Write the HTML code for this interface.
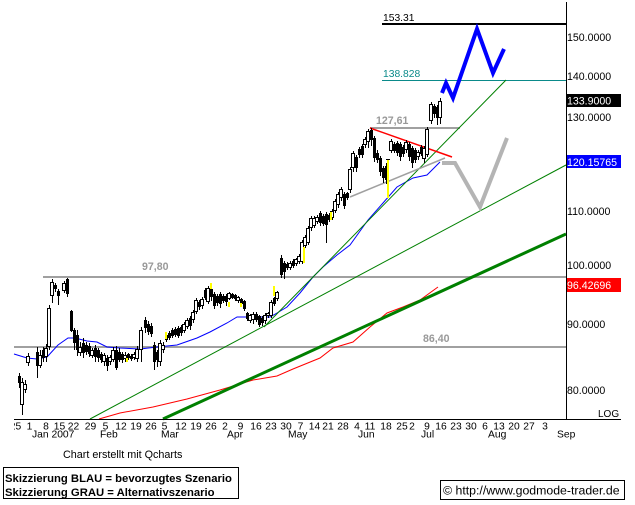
<!DOCTYPE html>
<html><head><meta charset="utf-8"><style>
html,body{margin:0;padding:0;background:#fff;}
svg{display:block;}
text{font-family:"Liberation Sans",Arial,sans-serif;}
</style></head><body>
<svg width="635" height="505" viewBox="0 0 635 505" xmlns="http://www.w3.org/2000/svg">
<rect width="635" height="505" fill="#fff"/>
<!-- horizontal levels -->
<g shape-rendering="crispEdges">
<line x1="382" y1="24" x2="566" y2="24" stroke="#000" stroke-width="2"/>
<line x1="382" y1="80.5" x2="566" y2="80.5" stroke="#0a8a8a" stroke-width="1"/>
<line x1="43" y1="277" x2="566" y2="277" stroke="#a0a0a0" stroke-width="2"/>
<line x1="14" y1="347" x2="566" y2="347" stroke="#a0a0a0" stroke-width="2"/>
<line x1="370" y1="128" x2="460" y2="128" stroke="#a0a0a0" stroke-width="2"/>
</g>
<text x="383" y="21" font-size="10.3" fill="#000">153.31</text>
<text x="383" y="77" font-size="10.3" fill="#0a8a8a">138.828</text>
<text x="376" y="124" font-size="10.6" font-weight="bold" fill="#999">127,61</text>
<text x="142" y="270" font-size="10.6" font-weight="bold" fill="#999">97,80</text>
<text x="423" y="342" font-size="10.6" font-weight="bold" fill="#999">86,40</text>
<!-- moving averages -->
<polyline fill="none" stroke="#ff0000" stroke-width="1" points="99,419 120,413 153,407 187,399 220,390 253,380 277,376 293,369 320,358 333,348 353,342 370,327 387,313 403,307 420,300 438,287"/>
<polyline fill="none" stroke="#0000ff" stroke-width="1" points="14,354 27,358 37,359 47,357 58,345 68,338 75,338 87,341 97,342 107,347 120,348 140,349 157,347 177,345 197,338 210,332 227,323 237,317 250,317 263,317 270,317 277,313 287,307 300,293 313,277 323,267 337,255 350,245 368,220 383,203 397,187 413,178 427,175 440,162"/>
<!-- trend lines -->
<line x1="90" y1="419" x2="566" y2="165" stroke="#008000" stroke-width="1"/>
<line x1="264" y1="327" x2="506" y2="80" stroke="#008000" stroke-width="1"/>
<line x1="163" y1="419" x2="566" y2="234" stroke="#008000" stroke-width="3"/>
<line x1="370" y1="128" x2="452" y2="157" stroke="#ff0000" stroke-width="1.5"/>
<line x1="350" y1="197" x2="445" y2="158" stroke="#a0a0a0" stroke-width="1.5"/>
<!-- candles -->
<g shape-rendering="crispEdges">
<path stroke="#000" stroke-width="1" fill="none" transform="translate(0.5,0)" d="M19 373V388M22 378V415M25 380V393M28 353V366M37 347V378M40 350V368M43 347V362M46 344V362M49 305V350M52 279V303M55 283V292M58 289V305M64 281V293M67 278V297M71 310V332M74 328V350M77 330V356M80 342V356M83 338V358M86 342V355M89 343V357M92 348V358M95 345V362M98 348V362M101 352V363M104 353V366M107 355V371M110 355V365M113 347V362M116 346V370M119 348V362M122 352V363M125 352V362M128 353V360M131 354V361M134 352V360M137 346V362M141 327V362M145 317V333M148 321V335M151 323V337M154 342V370M157 350V367M160 340V366M163 342V353M166 333V342M169 331V340M172 328V338M175 327V337M178 326V338M181 325V336M184 322V333M187 318V329M190 316V330M193 310V323M196 298V314M199 300V310M202 297V309M205 288V300M208 286V304M211 287V301M214 292V309M217 294V306M220 292V308M223 294V303M226 294V306M229 292V300M232 293V299M235 294V301M238 296V303M241 298V305M244 300V311M247 312V321M250 314V323M253 312V324M256 312V322M259 315V327M262 316V326M265 313V324M268 312V318M271 300V318M274 297V306M277 291V301M281 255V278M284 261V279M287 262V270M290 261V270M293 259V268M296 258V266M299 254V264M302 240V264M305 235V248M308 226V245M311 216V231M314 216V228M317 215V224M320 211V226M323 214V226M326 212V243M329 213V222M332 209V220M335 199V213M338 192V208M341 187V201M344 192V209M347 192V200M350 167V193M353 151V172M356 155V172M359 147V158M362 144V158M365 137V148M368 129V148M371 128V146M374 136V162M377 150V163M380 156V176M383 166V183M386 163V184M391 139V153M394 142V153M397 141V156M400 142V161M403 145V157M406 140V153M409 142V161M412 146V168M415 148V163M418 150V160M421 145V156M424 146V163M427 127V157M431 102V124M434 104V118M437 105V125M440 98V124"/>
<g fill="#000">
<rect x="18" y="376" width="3" height="7"/>
<rect x="36" y="352" width="3" height="14"/>
<rect x="42" y="350" width="3" height="8"/>
<rect x="54" y="285" width="3" height="4"/>
<rect x="57" y="291" width="3" height="5"/>
<rect x="66" y="279" width="3" height="15"/>
<rect x="70" y="311" width="3" height="20"/>
<rect x="73" y="330" width="3" height="13"/>
<rect x="76" y="335" width="3" height="15"/>
<rect x="82" y="343" width="3" height="10"/>
<rect x="85" y="345" width="3" height="7"/>
<rect x="88" y="346" width="3" height="8"/>
<rect x="94" y="348" width="3" height="9"/>
<rect x="97" y="350" width="3" height="8"/>
<rect x="100" y="354" width="3" height="6"/>
<rect x="106" y="358" width="3" height="8"/>
<rect x="115" y="350" width="3" height="18"/>
<rect x="118" y="352" width="3" height="8"/>
<rect x="121" y="354" width="3" height="6"/>
<rect x="127" y="354" width="3" height="4"/>
<rect x="130" y="356" width="3" height="3"/>
<rect x="144" y="320" width="3" height="8"/>
<rect x="147" y="324" width="3" height="8"/>
<rect x="150" y="326" width="3" height="8"/>
<rect x="153" y="345" width="3" height="17"/>
<rect x="156" y="352" width="3" height="8"/>
<rect x="165" y="335" width="3" height="5"/>
<rect x="168" y="333" width="3" height="5"/>
<rect x="171" y="330" width="3" height="6"/>
<rect x="174" y="329" width="3" height="6"/>
<rect x="177" y="328" width="3" height="8"/>
<rect x="180" y="327" width="3" height="6"/>
<rect x="189" y="318" width="3" height="8"/>
<rect x="198" y="302" width="3" height="5"/>
<rect x="204" y="290" width="3" height="8"/>
<rect x="210" y="289" width="3" height="8"/>
<rect x="213" y="294" width="3" height="12"/>
<rect x="216" y="296" width="3" height="7"/>
<rect x="219" y="294" width="3" height="10"/>
<rect x="222" y="296" width="3" height="5"/>
<rect x="225" y="296" width="3" height="6"/>
<rect x="231" y="294" width="3" height="4"/>
<rect x="234" y="295" width="3" height="4"/>
<rect x="240" y="299" width="3" height="5"/>
<rect x="243" y="301" width="3" height="8"/>
<rect x="246" y="313" width="3" height="6"/>
<rect x="255" y="314" width="3" height="6"/>
<rect x="258" y="316" width="3" height="9"/>
<rect x="261" y="318" width="3" height="5"/>
<rect x="273" y="298" width="3" height="6"/>
<rect x="280" y="258" width="3" height="17"/>
<rect x="283" y="263" width="3" height="9"/>
<rect x="286" y="264" width="3" height="4"/>
<rect x="292" y="261" width="3" height="5"/>
<rect x="319" y="213" width="3" height="10"/>
<rect x="322" y="216" width="3" height="8"/>
<rect x="325" y="214" width="3" height="11"/>
<rect x="328" y="215" width="3" height="5"/>
<rect x="343" y="194" width="3" height="12"/>
<rect x="346" y="193" width="3" height="5"/>
<rect x="355" y="157" width="3" height="11"/>
<rect x="358" y="149" width="3" height="6"/>
<rect x="361" y="146" width="3" height="9"/>
<rect x="370" y="130" width="3" height="10"/>
<rect x="373" y="138" width="3" height="20"/>
<rect x="376" y="153" width="3" height="7"/>
<rect x="379" y="158" width="3" height="14"/>
<rect x="382" y="168" width="3" height="10"/>
<rect x="385" y="166" width="3" height="14"/>
<rect x="393" y="144" width="3" height="7"/>
<rect x="396" y="143" width="3" height="10"/>
<rect x="399" y="144" width="3" height="13"/>
<rect x="402" y="147" width="3" height="7"/>
<rect x="408" y="144" width="3" height="13"/>
<rect x="411" y="148" width="3" height="15"/>
<rect x="414" y="150" width="3" height="10"/>
<rect x="420" y="147" width="3" height="7"/>
<rect x="433" y="106" width="3" height="8"/>
<rect x="436" y="107" width="3" height="11"/>
<rect x="386" y="159" width="4" height="1"/>
</g>
<g fill="#fff" stroke="#000" stroke-width="1">
<rect x="20.5" y="382.5" width="3" height="22"/>
<rect x="23.5" y="384.5" width="3" height="5"/>
<rect x="26.5" y="356.5" width="3" height="6"/>
<rect x="38.5" y="355.5" width="3" height="10"/>
<rect x="44.5" y="348.5" width="3" height="8"/>
<rect x="47.5" y="308.5" width="3" height="38"/>
<rect x="50.5" y="282.5" width="3" height="13"/>
<rect x="62.5" y="283.5" width="3" height="7"/>
<rect x="78.5" y="347.5" width="3" height="5"/>
<rect x="90.5" y="350.5" width="3" height="5"/>
<rect x="102.5" y="355.5" width="3" height="6"/>
<rect x="108.5" y="357.5" width="3" height="4"/>
<rect x="111.5" y="350.5" width="3" height="9"/>
<rect x="123.5" y="355.5" width="3" height="3"/>
<rect x="132.5" y="354.5" width="3" height="3"/>
<rect x="135.5" y="349.5" width="3" height="9"/>
<rect x="139.5" y="330.5" width="3" height="19"/>
<rect x="158.5" y="343.5" width="3" height="18"/>
<rect x="161.5" y="345.5" width="3" height="4"/>
<rect x="182.5" y="324.5" width="3" height="6"/>
<rect x="185.5" y="320.5" width="3" height="6"/>
<rect x="191.5" y="312.5" width="3" height="7"/>
<rect x="194.5" y="300.5" width="3" height="11"/>
<rect x="200.5" y="299.5" width="3" height="6"/>
<rect x="206.5" y="288.5" width="3" height="13"/>
<rect x="227.5" y="293.5" width="3" height="5"/>
<rect x="236.5" y="297.5" width="3" height="3"/>
<rect x="248.5" y="315.5" width="3" height="5"/>
<rect x="251.5" y="314.5" width="3" height="5"/>
<rect x="263.5" y="315.5" width="3" height="5"/>
<rect x="266.5" y="313.5" width="3" height="2"/>
<rect x="269.5" y="302.5" width="3" height="13"/>
<rect x="275.5" y="292.5" width="3" height="6"/>
<rect x="288.5" y="263.5" width="3" height="4"/>
<rect x="294.5" y="259.5" width="3" height="4"/>
<rect x="297.5" y="256.5" width="3" height="5"/>
<rect x="300.5" y="242.5" width="3" height="19"/>
<rect x="303.5" y="237.5" width="3" height="8"/>
<rect x="306.5" y="228.5" width="3" height="14"/>
<rect x="309.5" y="218.5" width="3" height="9"/>
<rect x="312.5" y="218.5" width="3" height="7"/>
<rect x="315.5" y="217.5" width="3" height="4"/>
<rect x="330.5" y="211.5" width="3" height="6"/>
<rect x="333.5" y="201.5" width="3" height="9"/>
<rect x="336.5" y="194.5" width="3" height="10"/>
<rect x="339.5" y="189.5" width="3" height="8"/>
<rect x="348.5" y="169.5" width="3" height="20"/>
<rect x="351.5" y="153.5" width="3" height="14"/>
<rect x="363.5" y="139.5" width="3" height="5"/>
<rect x="366.5" y="131.5" width="3" height="10"/>
<rect x="389.5" y="141.5" width="3" height="9"/>
<rect x="404.5" y="142.5" width="3" height="7"/>
<rect x="416.5" y="152.5" width="3" height="4"/>
<rect x="422.5" y="148.5" width="3" height="10"/>
<rect x="425.5" y="129.5" width="3" height="25"/>
<rect x="429.5" y="104.5" width="3" height="16"/>
<rect x="438.5" y="101.5" width="3" height="16"/>
</g>
<path stroke="#ffff00" stroke-width="2" fill="none" d="M166 332V339M211 283V289M229 302V307M241 303V307M274 286V296M304 247V263M331 212V220M388 160V198M127 358V362"/>
</g>
<!-- scenarios -->
<polyline fill="none" stroke="#b4b4b4" stroke-width="4" stroke-linejoin="miter" points="442,163 455,163 480,207 507,138"/>
<polyline fill="none" stroke="#0000ff" stroke-width="4" stroke-linejoin="miter" points="442,93 446,83 453,98 477,29 493,73 504,49"/>
<!-- axes -->
<g shape-rendering="crispEdges">
<line x1="566.5" y1="2" x2="566.5" y2="419" stroke="#000" stroke-width="1"/>
<line x1="14" y1="419.5" x2="621" y2="419.5" stroke="#000" stroke-width="1"/>
<rect x="567" y="94" width="54" height="13" fill="#000"/>
<rect x="567" y="155" width="54" height="13" fill="#0000ff"/>
<rect x="567" y="278" width="54" height="14" fill="#ff0000"/>
</g>
<g font-size="10.6" fill="#000">
<text x="567" y="41">150.0000</text>
<text x="567" y="80">140.0000</text>
<text x="567" y="121">130.0000</text>
<text x="567" y="215">110.0000</text>
<text x="567" y="269">100.0000</text>
<text x="567" y="328">90.0000</text>
<text x="567" y="394">80.0000</text>
<text x="567" y="104.5" fill="#fff">133.9000</text>
<text x="567" y="166" fill="#fff">120.15765</text>
<text x="567" y="289" fill="#fff">96.42696</text>
</g>
<text x="598" y="417" font-size="10" fill="#000">LOG</text>
<!-- x-axis labels -->
<g font-size="10.3" fill="#000" text-anchor="middle">
<text x="15.5" y="429.5">25</text>
<text x="29.5" y="429.5">1</text>
<text x="46" y="429.5">8</text>
<text x="59.5" y="429.5">15</text>
<text x="73.5" y="429.5">22</text>
<text x="90.5" y="429.5">29</text>
<text x="105.5" y="429.5">5</text>
<text x="121" y="429.5">12</text>
<text x="136" y="429.5">19</text>
<text x="151" y="429.5">26</text>
<text x="164.5" y="429.5">5</text>
<text x="181" y="429.5">12</text>
<text x="196" y="429.5">19</text>
<text x="211" y="429.5">26</text>
<text x="225" y="429.5">2</text>
<text x="240.5" y="429.5">9</text>
<text x="256" y="429.5">16</text>
<text x="271" y="429.5">23</text>
<text x="286" y="429.5">30</text>
<text x="300.5" y="429.5">7</text>
<text x="314.5" y="429.5">14</text>
<text x="328" y="429.5">21</text>
<text x="343" y="429.5">28</text>
<text x="357" y="429.5">4</text>
<text x="370" y="429.5">11</text>
<text x="386" y="429.5">18</text>
<text x="402" y="429.5">25</text>
<text x="412" y="429.5">2</text>
<text x="427" y="429.5">9</text>
<text x="441" y="429.5">16</text>
<text x="456" y="429.5">23</text>
<text x="471" y="429.5">30</text>
<text x="485" y="429.5">6</text>
<text x="499" y="429.5">13</text>
<text x="514" y="429.5">20</text>
<text x="529" y="429.5">27</text>
<text x="545" y="429.5">3</text>
</g>
<rect x="0" y="420" width="14" height="11" fill="#fff"/>
<g font-size="10.3" fill="#000">
<text x="32" y="437.5">Jan 2007</text>
<text x="100" y="437.5">Feb</text>
<text x="161" y="437.5">Mar</text>
<text x="227" y="437.5">Apr</text>
<text x="288" y="437.5">May</text>
<text x="358" y="437.5">Jun</text>
<text x="421" y="437.5">Jul</text>
<text x="488" y="437.5">Aug</text>
<text x="557" y="437.5">Sep</text>
</g>
<text x="63" y="458" font-size="10.8" fill="#000">Chart erstellt mit Qcharts</text>
<!-- boxes -->
<rect x="3.5" y="467.5" width="235" height="31" fill="none" stroke="#000" stroke-width="1" shape-rendering="crispEdges"/>
<text x="5" y="482" font-size="11.3" font-weight="bold" fill="#000">Skizzierung BLAU = bevorzugtes Szenario</text>
<text x="5" y="496" font-size="11.3" font-weight="bold" fill="#000">Skizzierung GRAU = Alternativszenario</text>
<rect x="440.5" y="480.5" width="184" height="19" fill="none" stroke="#000" stroke-width="1" shape-rendering="crispEdges"/>
<text x="443" y="494.5" font-size="12.3" fill="#000">© http://www.godmode-trader.de</text>
</svg>
</body></html>
